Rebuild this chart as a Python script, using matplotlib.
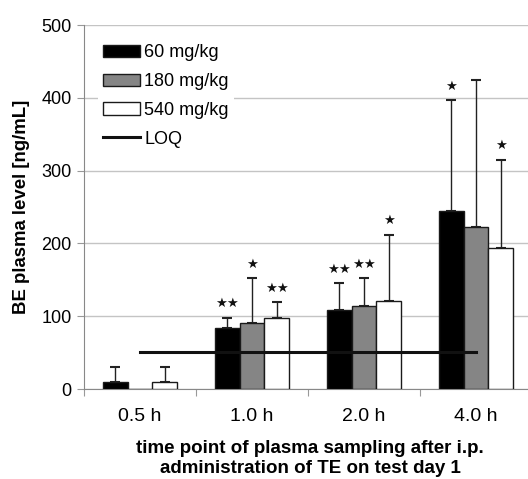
import matplotlib
matplotlib.use("Agg")
import matplotlib.pyplot as plt
import numpy as np
from matplotlib.patches import Patch
from matplotlib.lines import Line2D

plt.rcParams['font.family'] = ['Liberation Sans', 'DejaVu Sans']

categories = ["0.5 h", "1.0 h", "2.0 h", "4.0 h"]
series_names = ["60 mg/kg", "180 mg/kg", "540 mg/kg"]
mean_60 = [10, 84, 108, 245]
mean_180 = [0, 90, 114, 223]
mean_540 = [10, 98, 121, 193]
err_top_60 = [30, 98, 145, 397]
err_top_180 = [None, 152, 152, 425]
err_top_540 = [30, 119, 212, 315]
stars_60 = ["", "★★", "★★", "★"]
stars_180 = ["", "★", "★★", ""]
stars_540 = ["", "★★", "★", "★"]
loq_value = 51

colors = ["#000000", "#858585", "#ffffff"]

W, H = 528, 479
fig = plt.figure(figsize=(W / 100, H / 100), dpi=100)
ax = fig.add_axes([84 / W, (479 - 389) / H, 448 / W, 364 / H])

x = np.arange(len(categories))
bw = 0.223
offsets = [-bw, 0, bw]
means = [mean_60, mean_180, mean_540]
errs = [err_top_60, err_top_180, err_top_540]
stars = [stars_60, stars_180, stars_540]

for i in range(3):
    xs = x + offsets[i]
    ax.bar(xs, means[i], width=bw, color=colors[i], edgecolor="#1a1a1a",
           linewidth=1.0, zorder=3, label=series_names[i])
    for j in range(len(categories)):
        et = errs[i][j]
        if et is None:
            continue
        ax.errorbar(xs[j], means[i][j], yerr=[[0], [et - means[i][j]]],
                    fmt='none', ecolor='#222222', elinewidth=1.0,
                    capsize=3.5, capthick=1.5, zorder=2)
        if stars[i][j]:
            ax.text(xs[j], et + 19, stars[i][j], ha='center', va='center',
                    fontsize=9.5, family=['DejaVu Sans'], color='#111111', zorder=5)

ax.plot([x[0], x[-1]], [loq_value, loq_value], color='#111111', lw=2.2,
        zorder=4, label="LOQ")

ax.set_xlim(-0.5, 3.5)
ax.set_ylim(0, 500)
ax.set_yticks([0, 100, 200, 300, 400, 500])
ax.yaxis.grid(True, color='#c4c4c4', lw=1.0, zorder=0)
ax.set_axisbelow(True)
ax.set_xticks([-0.5, 0.5, 1.5, 2.5])
ax.set_xticklabels([])
ax.set_xticks(x, minor=True)
ax.set_xticklabels(categories, minor=True, fontsize=14)
ax.tick_params(axis='x', which='minor', length=0, pad=14)
ax.tick_params(axis='x', which='major', length=5, color='#999999', direction='out')
ax.tick_params(axis='y', length=5, color='#999999', labelsize=13, pad=4)
for s in ['top', 'right']:
    ax.spines[s].set_visible(False)
ax.spines['left'].set_color('#888888')
ax.spines['bottom'].set_color('#888888')

ax.set_ylabel("BE plasma level [ng/mL]", fontsize=13.4, fontweight='bold', labelpad=8)
ax.set_xlabel("time point of plasma sampling after i.p.\nadministration of TE on test day 1",
              fontsize=13.5, fontweight='bold', linespacing=1.25)
ax.xaxis.set_label_coords((310 - 84) / 448, -0.14)

handles = [Patch(facecolor=colors[0], edgecolor='#1a1a1a'),
           Patch(facecolor=colors[1], edgecolor='#1a1a1a'),
           Patch(facecolor=colors[2], edgecolor='#1a1a1a'),
           Line2D([0], [0], color='#111111', lw=2.2)]
labels = series_names + ["LOQ"]
leg = ax.legend(handles, labels, loc='upper left', bbox_to_anchor=(89 / W, 1 - 30 / H),
                bbox_transform=fig.transFigure, fontsize=13, frameon=True,
                fancybox=False, edgecolor='none', facecolor='white', framealpha=1,
                handlelength=2.0, handleheight=0.7, handletextpad=0.25,
                labelspacing=0.65, borderpad=0.3)
leg.set_zorder(6)

fig.savefig("out.png", dpi=100)
